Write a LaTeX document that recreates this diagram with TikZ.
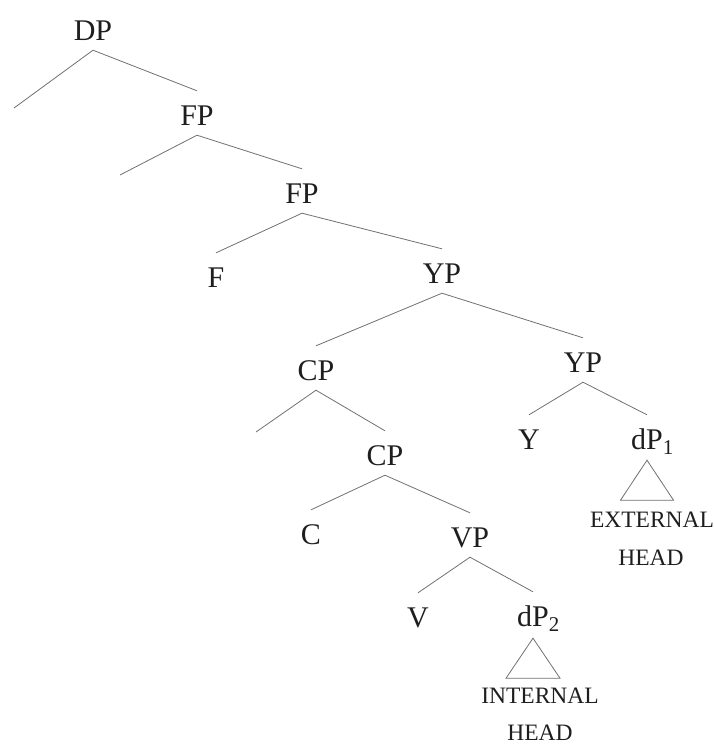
\documentclass[tikz,border=0pt]{standalone}
\usepackage{fontspec}
\setmainfont{Liberation Serif}
\definecolor{ink}{HTML}{1E1E1E}
\definecolor{edge}{HTML}{707070}
\begin{document}
\begin{tikzpicture}[x=1pt,y=-1pt,
  lab/.style={anchor=base, inner sep=0pt, text height=34pt, text depth=10pt,
    font=\fontsize{30}{36}\selectfont, text=ink},
  note/.style={anchor=base, inner sep=0pt, font=\fontsize{23.5}{28}\selectfont, text=ink},
  branch/.style={draw=edge, line width=0.8pt},
]
\useasboundingbox (0,0) rectangle (714,745);

% category labels
\node[lab] (DP)  at (93,40)   {DP};
\node[lab] (FPa) at (197,125) {FP};
\node[lab] (FPb) at (302,203) {FP};
\node[lab] (F)   at (216,287) {F};
\node[lab] (YPa) at (442,283) {YP};
\node[lab] (CPa) at (316,380) {CP};
\node[lab] (CPb) at (385,465) {CP};
\node[lab] (YPb) at (583,372) {YP};
\node[lab] (Y)   at (529,449) {Y};
\node[lab] (dPa) at (647,449) {dP\rlap{\textsubscript{1}}};
\node[lab] (C)   at (311,544) {C};
\node[lab] (VP)  at (470,547) {VP};
\node[lab] (V)   at (418,627) {V};
\node[lab] (dPb) at (533,626) {dP\rlap{\textsubscript{2}}};

% empty specifier positions
\coordinate (sDP) at (14,108);
\coordinate (sFP) at (120,175);
\coordinate (sCP) at (256,432);

% branches
\draw[branch] (sDP) -- (DP.south) -- (FPa.north);
\draw[branch] (sFP) -- (FPa.south) -- (FPb.north);
\draw[branch] (F.north) -- (FPb.south) -- (YPa.north);
\draw[branch] (CPa.north) -- (YPa.south) -- (YPb.north);
\draw[branch] (sCP) -- (CPa.south) -- (CPb.north);
\draw[branch] (C.north) -- (CPb.south) -- (VP.north);
\draw[branch] (V.north) -- (VP.south) -- (dPb.north);
\draw[branch] (Y.north) -- (YPb.south) -- (dPa.north);

% triangles over unanalysed phrases
\draw[branch] ([yshift=-1pt]dPa.south) -- ++(-26.5,40) -- ++(53,0) -- cycle;
\draw[branch] ([yshift=-2pt]dPb.south) -- ++(-27,40) -- ++(54,0) -- cycle;

% phrase contents
\node[note] (ext1) at (652,527) {EXTERNAL};
\node[note] (ext2) at (651,565) {HEAD};
\node[note] (int1) at (540,703) {INTERNAL};
\node[note] (int2) at (540,740) {HEAD};
\end{tikzpicture}
\end{document}
